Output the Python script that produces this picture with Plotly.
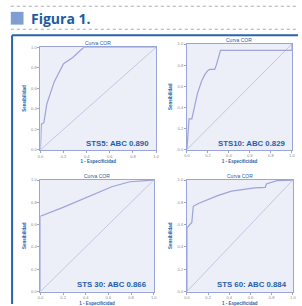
import plotly.graph_objects as go

# ---- data ----
sts5_fpr = [0.0, 0.0, 0.008, 0.03, 0.056, 0.12, 0.2, 0.28, 0.375, 1.0]
sts5_tpr = [0.0, 0.0, 0.25, 0.265, 0.45, 0.665, 0.84, 0.9, 1.0, 1.0]

sts10_fpr = [0.0, 0.01, 0.02, 0.047, 0.08, 0.1, 0.14, 0.17, 0.2, 0.22, 0.265, 0.28, 0.32, 1.0, 1.0]
sts10_tpr = [0.0, 0.15, 0.29, 0.29, 0.46, 0.53, 0.65, 0.71, 0.75, 0.76, 0.76, 0.8, 0.94, 0.94, 1.0]

sts30_fpr = [0.0, 0.0, 0.2, 0.45, 0.63, 0.79, 1.0]
sts30_tpr = [0.0, 0.675, 0.755, 0.86, 0.94, 0.985, 1.0]

sts60_fpr = [0.0, 0.0, 0.046, 0.053, 0.06, 0.108, 0.18, 0.29, 0.42, 0.54, 0.64, 0.74, 0.75, 0.85, 1.0]
sts60_tpr = [0.0, 0.57, 0.62, 0.74, 0.765, 0.79, 0.82, 0.86, 0.9, 0.92, 0.93, 0.935, 0.965, 0.995, 1.0]

labels = ["STS5: ABC 0.890", "STS10: ABC 0.829", "STS 30: ABC 0.866", "STS 60: ABC 0.884"]
series = [(sts5_fpr, sts5_tpr), (sts10_fpr, sts10_tpr), (sts30_fpr, sts30_tpr), (sts60_fpr, sts60_tpr)]
tick_vals = [0.0, 0.2, 0.4, 0.6, 0.8, 1.0]
tick_text = ["0.0", "0.2", "0.4", "0.6", "0.8", "1.0"]

W, H = 302, 306
def px(x): return x / W
def py(y): return 1 - y / H

# plot-area boxes in pixels (left, right, top, bottom)
boxes = [(38.3, 156.7, 45, 149.3), (188.3, 295.7, 41.7, 149), (38.3, 154.3, 180, 293.3), (188.3, 296.7, 180, 293.3)]

BLUE = "#1f5fa8"
CURVE = "#9ea4d8"
AXIS = "#9aa5d6"
BG = "#eceef8"

fig = go.Figure()
layout = dict(width=W, height=H, margin=dict(l=0, r=0, t=0, b=0),
              paper_bgcolor="white", showlegend=False,
              font=dict(family="Liberation Sans, Arial, sans-serif"))
annotations = []
shapes = []

for i, ((fx, ty), (l, r, t, b), lab) in enumerate(zip(series, boxes, labels)):
    n = "" if i == 0 else str(i + 1)
    xa, ya = "x" + n, "y" + n
    fig.add_trace(go.Scatter(x=[0, 1], y=[0, 1], mode="lines", xaxis=xa, yaxis=ya,
                             line=dict(color="#b9bde0", width=0.8), hoverinfo="skip"))
    fig.add_trace(go.Scatter(x=fx, y=ty, mode="lines", xaxis=xa, yaxis=ya,
                             line=dict(color=CURVE, width=1.2), hoverinfo="skip"))
    common = dict(range=[0, 1], showgrid=False, zeroline=False, showline=True, linecolor=AXIS,
                  linewidth=1, mirror=True, ticks="outside", ticklen=2, tickcolor=AXIS,
                  tickvals=tick_vals, ticktext=tick_text,
                  tickfont=dict(size=4, color="#888888"), fixedrange=True)
    layout["xaxis" + n] = dict(common, domain=[px(l), px(r)], anchor=ya,
                               title=dict(text="<b>1 - Especificidad</b>", font=dict(size=4.5, color=BLUE), standoff=2))
    layout["yaxis" + n] = dict(common, domain=[py(b), py(t)], anchor=xa,
                               title=dict(text="<b>Sensibilidad</b>", font=dict(size=4.5, color=BLUE), standoff=4))
    shapes.append(dict(type="rect", xref="paper", yref="paper", x0=px(l), x1=px(r), y0=py(b), y1=py(t),
                       fillcolor=BG, line=dict(width=0), layer="below"))
    annotations.append(dict(text="Curva COR", xref="paper", yref="paper", x=(px(l) + px(r)) / 2,
                            y=py(t - 4), showarrow=False, font=dict(size=5, color=BLUE),
                            xanchor="center", yanchor="middle"))
    annotations.append(dict(text="<b>" + lab + "</b>", xref=xa, yref=ya, x=0.96, y=0.06,
                            showarrow=False, font=dict(size=7.8, color=BLUE),
                            xanchor="right", yanchor="middle"))

# header elements
shapes.append(dict(type="line", xref="paper", yref="paper", x0=px(8), x1=1, y0=py(3.3), y1=py(3.3),
                   line=dict(color="#aaaaaa", width=1, dash="dot")))
shapes.append(dict(type="line", xref="paper", yref="paper", x0=px(8), x1=1, y0=py(26.7), y1=py(26.7),
                   line=dict(color="#aaaaaa", width=1, dash="dot")))
shapes.append(dict(type="rect", xref="paper", yref="paper", x0=px(8), x1=px(21), y0=py(22), y1=py(9),
                   fillcolor="#7f9fd2", line=dict(width=0)))
shapes.append(dict(type="line", xref="paper", yref="paper", x0=px(9.3), x1=1, y0=py(32.7), y1=py(32.7),
                   line=dict(color="#2a62ad", width=2)))
shapes.append(dict(type="line", xref="paper", yref="paper", x0=px(9.3), x1=px(9.3), y0=py(32.7), y1=0,
                   line=dict(color="#2a62ad", width=2)))
annotations.append(dict(text="<b>Figura 1.</b>", xref="paper", yref="paper", x=px(27), y=py(16),
                        showarrow=False, xanchor="left", yanchor="middle",
                        font=dict(size=14, color="#1d5b9e", family="Open Sans, Liberation Sans, sans-serif")))

layout["annotations"] = annotations
layout["shapes"] = shapes
fig.update_layout(**layout)
fig.write_html("out.html", config={"displayModeBar": False, "staticPlot": True},
               post_script="document.body.style.margin='0';document.body.style.overflow='hidden';")
